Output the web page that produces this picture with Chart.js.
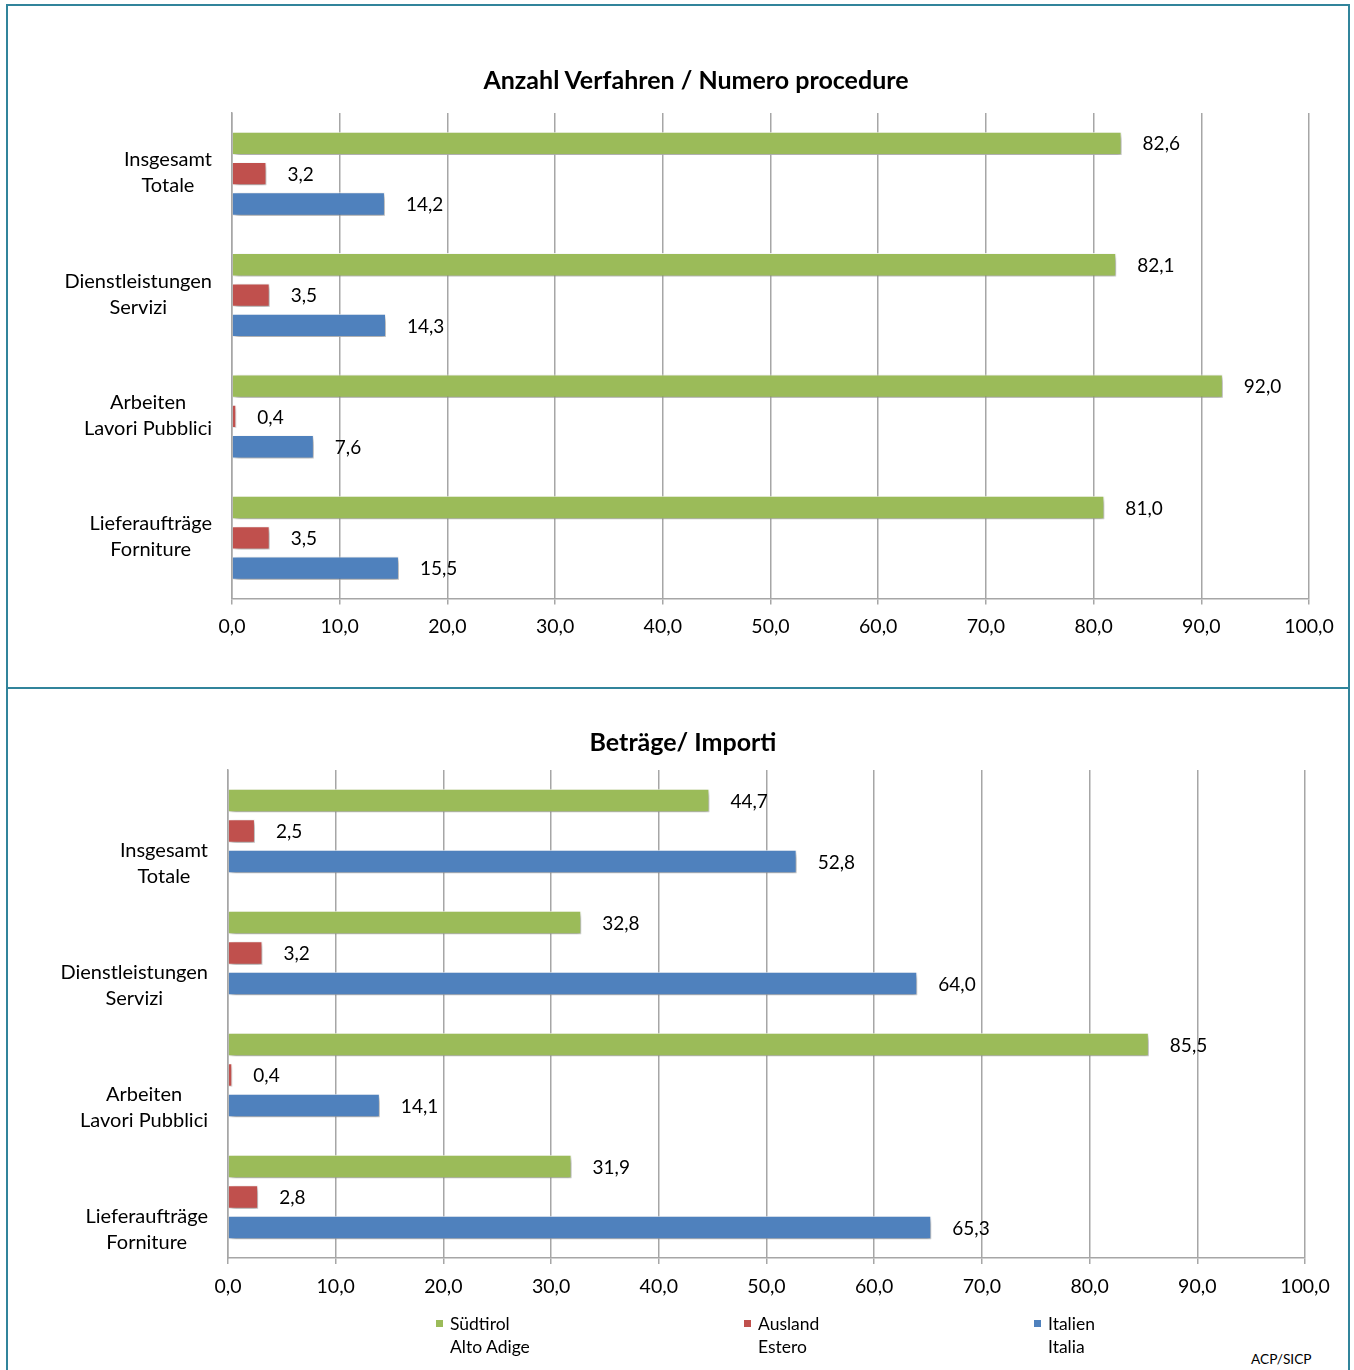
<!DOCTYPE html>
<html>
<head>
<meta charset="utf-8">
<script src="https://cdn.jsdelivr.net/npm/chart.js@4.4.0/dist/chart.umd.min.js"></script>
<style>
body { margin: 0; background: #fff; font-family: Lato, sans-serif; }
#page { position: relative; width: 1354px; height: 1370px; overflow: hidden; background: #fff; }
canvas { position: absolute; left: 0; }
.frame { position: absolute; background: #31849B; }
.title { position: absolute; font-weight: bold; font-size: 25px; color: #000; white-space: nowrap; transform: translate(-50%, -50%); }
.leg { position: absolute; font-size: 17.5px; line-height: 23px; color: #000; }
.leg i { position: absolute; left: -14px; top: 8px; width: 7px; height: 7px; }
.src { position: absolute; left: 1251px; top: 1350px; font-size: 13.7px; }
</style>
</head>
<body>
<div id="page">
  <canvas id="chartTop" width="1354" height="660" style="top:0"></canvas>
  <canvas id="chartBottom" width="1354" height="630" style="top:688px"></canvas>

  <div class="title" style="left:696px; top:79px">Anzahl Verfahren / Numero procedure</div>
  <div class="title" style="left:683px; top:741px">Beträge/ Importi</div>

  <div class="leg" style="left:450px; top:1312px"><i style="background:#9BBB59"></i>Südtirol<br>Alto Adige</div>
  <div class="leg" style="left:758px; top:1312px"><i style="background:#C0504D"></i>Ausland<br>Estero</div>
  <div class="leg" style="left:1048px; top:1312px"><i style="background:#4F81BD"></i>Italien<br>Italia</div>
  <div class="src">ACP/SICP</div>

  <div class="frame" style="left:6px; top:4px; width:1344px; height:2px"></div>
  <div class="frame" style="left:6px; top:4px; width:2px; height:1366px"></div>
  <div class="frame" style="left:1348px; top:4px; width:2px; height:1366px"></div>
  <div class="frame" style="left:6px; top:687px; width:1344px; height:2px"></div>
</div>

<script>
// categories (two-line labels, German / Italian)
const categories = [
  ['Insgesamt', 'Totale'],
  ['Dienstleistungen', 'Servizi'],
  ['Arbeiten', 'Lavori Pubblici'],
  ['Lieferaufträge', 'Forniture']
];
const seriesNames = ['Südtirol / Alto Adige', 'Ausland / Estero', 'Italien / Italia'];
const seriesColors = ['#9BBB59', '#C0504D', '#4F81BD'];

// Anzahl Verfahren / Numero procedure (%)
const verfahrenSuedtirol = [82.6, 82.1, 92.0, 81.0];
const verfahrenAusland   = [3.2, 3.5, 0.4, 3.5];
const verfahrenItalien   = [14.2, 14.3, 7.6, 15.5];

// Beträge / Importi (%)
const betraegeSuedtirol = [44.7, 32.8, 85.5, 31.9];
const betraegeAusland   = [2.5, 3.2, 0.4, 2.8];
const betraegeItalien   = [52.8, 64.0, 14.1, 65.3];

const xMin = 0, xMax = 100, xStep = 10;

const fmt = v => v.toFixed(1).replace('.', ',');

// soft drop shadow under the bars
const barShadow = {
  id: 'barShadow',
  beforeDatasetsDraw(chart) {
    const c = chart.ctx;
    c.save();
    c.shadowColor = 'rgba(0,0,0,0.4)';
    c.shadowBlur = 5;
    c.shadowOffsetX = 2;
    c.shadowOffsetY = 3;
  },
  afterDatasetsDraw(chart) {
    chart.ctx.restore();
  }
};

// value labels right of each bar
const valueLabels = {
  id: 'valueLabels',
  afterDatasetsDraw(chart) {
    const c = chart.ctx;
    c.save();
    c.font = '19px Lato';
    c.fillStyle = '#000';
    c.textAlign = 'left';
    c.textBaseline = 'middle';
    chart.data.datasets.forEach((ds, i) => {
      chart.getDatasetMeta(i).data.forEach((bar, j) => {
        c.fillText(fmt(ds.data[j]), bar.x + 21, bar.y + 1);
      });
    });
    c.restore();
  }
};

// category labels: each two-line label centred on itself, right edge near the axis
const categoryLabels = {
  id: 'categoryLabels',
  afterDraw(chart, args, opts) {
    const c = chart.ctx;
    const ys = chart.scales.y;
    c.save();
    c.font = '20px Lato';
    c.fillStyle = '#000';
    c.textAlign = 'center';
    c.textBaseline = 'middle';
    categories.forEach((lines, i) => {
      const yc = ys.getPixelForValue(i) + (opts.offset || 0);
      const w = Math.max(...lines.map(l => c.measureText(l).width));
      const cx = chart.chartArea.left - 20 - w / 2;
      lines.forEach((l, k) => c.fillText(l, cx, yc + (k - (lines.length - 1) / 2) * 26));
    });
    c.restore();
  }
};

function makeChart(id, values, cfg) {
  const datasets = values.map((data, i) => ({
    label: seriesNames[i],
    data: data,
    backgroundColor: seriesColors[i],
    borderColor: 'rgba(255,255,255,0.85)',
    borderWidth: 1,
    categoryPercentage: 0.75,
    barPercentage: 0.77
  }));
  return new Chart(document.getElementById(id), {
    type: 'bar',
    data: { labels: categories.map(l => l.join(' ')), datasets: datasets },
    plugins: [barShadow, valueLabels, categoryLabels],
    options: {
      indexAxis: 'y',
      responsive: false,
      animation: false,
      devicePixelRatio: 1,
      layout: { padding: { top: cfg.top, right: cfg.right, left: 0, bottom: 0 } },
      plugins: {
        legend: { display: false },
        title: { display: false },
        tooltip: { enabled: false },
        categoryLabels: { offset: cfg.labelOffset }
      },
      scales: {
        x: {
          min: xMin, max: xMax,
          ticks: {
            stepSize: xStep,
            callback: v => fmt(v),
            color: '#000',
            font: { family: 'Lato', size: 19.5 },
            padding: 11,
            maxRotation: 0
          },
          grid: { color: '#A6A6A6', lineWidth: 1.5, tickLength: 6, drawTicks: true },
          border: { display: true, color: '#A6A6A6', width: 1.5 },
          afterFit: s => { s.height = cfg.axisH; }
        },
        y: {
          ticks: { display: false },
          grid: { display: false },
          border: { display: true, color: '#A6A6A6', width: 1.5 },
          afterFit: s => { s.width = cfg.left; }
        }
      }
    }
  });
}

makeChart('chartTop', [verfahrenSuedtirol, verfahrenAusland, verfahrenItalien],
  { top: 113, right: 45, left: 232, labelOffset: -1, axisH: 61.5 });
makeChart('chartBottom', [betraegeSuedtirol, betraegeAusland, betraegeItalien],
  { top: 82, right: 49, left: 228, labelOffset: 33, axisH: 60 });
</script>
</body>
</html>
